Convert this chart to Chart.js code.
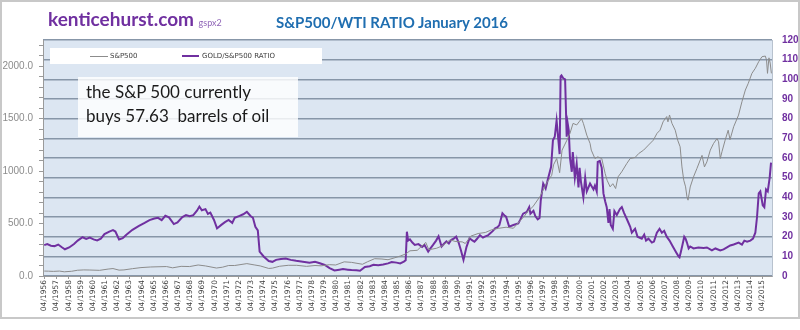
<!DOCTYPE html>
<html>
<head>
<meta charset="utf-8">
<script src="https://cdn.jsdelivr.net/npm/chart.js@4.4.1/dist/chart.umd.min.js"></script>
<style>
  html, body { margin: 0; padding: 0; background: #fff; }
  #wrap { position: relative; width: 800px; height: 330px; background: #fff; }
  #frame { position: absolute; left: 0; top: 0; width: 796px; height: 315px; border: 2px solid #c8c8c8; }
  canvas { position: absolute; left: 0; top: 0; }
  .ov { position: absolute; pointer-events: none; white-space: pre; }
  #site { left: 48px; top: 7px; font: bold 19px Lato, sans-serif; color: #7030a0; }
  #site span { font: 9px Lato, sans-serif; color: #9066b8; }
  #title { left: 276px; top: 13px; font: bold 15px Lato, sans-serif; color: #1f6eb0; }
  #legend { left: 50px; top: 48px; width: 272px; height: 16px; background: #fff; font: 7px "DejaVu Sans", sans-serif; color: #404040; }
  #legend i { position: absolute; top: 8px; height: 0; }
  #legend b { position: absolute; top: 4px; font-weight: normal; }
  #note { left: 78px; top: 77px; width: 220px; height: 60px; background: rgba(255,255,255,0.82);
          font: 17px Lato, sans-serif; color: #1a1a1a; }
  #note div { position: absolute; left: 8px; }
</style>
</head>
<body>
<div id="wrap">
  <canvas id="chart" width="800" height="330"></canvas>
  <div id="frame"></div>
  <div class="ov" id="site">kenticehurst.com <span>gspx2</span></div>
  <div class="ov" id="title">S&amp;P500/WTI RATIO January 2016</div>
  <div class="ov" id="legend">
    <i style="left:40px;width:18px;border-top:1px solid #8c8c8c"></i><b style="left:60px">S&amp;P500</b>
    <i style="left:132px;width:17px;border-top:2px solid #7030a0;top:7px"></i><b style="left:152px">GOLD/S&amp;P500 RATIO</b>
  </div>
  <div class="ov" id="note"><div style="top:4px">the S&amp;P 500 currently</div><div style="top:28px">buys 57.63  barrels of oil</div></div>
</div>
<script>
// tick labels, one per year (April)
const tickYears = [];
const tickLabels = [];
for (let y = 1956; y <= 2015; y++) { tickYears.push(y + 0.25); tickLabels.push("04/" + y); }

// S&P500 / WTI ratio (right axis)
const ratioYears = [
  1956.25, 1956.5, 1956.8, 1957.1, 1957.4, 1957.7, 1957.95, 1958.3, 1958.7, 1959.0,
  1959.4, 1959.7, 1960.0, 1960.3, 1960.6, 1960.9, 1961.2, 1961.6, 1961.9, 1962.1,
  1962.4, 1962.7, 1963.0, 1963.5, 1964.0, 1964.5, 1964.9, 1965.3, 1965.6, 1965.9,
  1966.2, 1966.5, 1966.9, 1967.2, 1967.6, 1967.9, 1968.2, 1968.5, 1968.8, 1969.0,
  1969.2, 1969.5, 1969.7, 1969.9, 1970.2, 1970.45, 1970.8, 1971.1, 1971.4, 1971.7,
  1971.9, 1972.3, 1972.6, 1972.9, 1973.2, 1973.4, 1973.6, 1973.8, 1973.95, 1974.3,
  1974.7, 1975.0, 1975.3, 1975.7, 1976.1, 1976.5, 1976.95, 1977.5, 1978.05, 1978.5,
  1978.9, 1979.3, 1979.7, 1980.1, 1980.5, 1980.8, 1981.2, 1981.5, 1981.9, 1982.2,
  1982.6, 1983.0, 1983.3, 1983.7, 1984.1, 1984.5, 1984.8, 1985.2, 1985.5, 1985.8,
  1985.95, 1986.05, 1986.15, 1986.3, 1986.5, 1986.7, 1987.0, 1987.3, 1987.5, 1987.8,
  1988.0, 1988.2, 1988.45, 1988.65, 1988.9, 1989.1, 1989.3, 1989.5, 1989.7, 1989.9,
  1990.1, 1990.3, 1990.5, 1990.7, 1990.95, 1991.2, 1991.4, 1991.6, 1991.8, 1992.05,
  1992.3, 1992.45, 1992.7, 1992.9, 1993.1, 1993.3, 1993.5, 1993.65, 1993.9, 1994.1,
  1994.2, 1994.45, 1994.8, 1995.2, 1995.35, 1995.6, 1995.9, 1996.1, 1996.2, 1996.45,
  1996.6, 1996.8, 1996.95, 1997.05, 1997.25, 1997.45, 1997.65, 1997.9, 1998.05, 1998.2,
  1998.35, 1998.5, 1998.6, 1998.68, 1998.75, 1998.9, 1999.05, 1999.18, 1999.26, 1999.35,
  1999.45, 1999.6, 1999.68, 1999.85, 2000.0, 2000.15, 2000.24, 2000.35, 2000.55, 2000.7,
  2000.83, 2001.1, 2001.38, 2001.5, 2001.65, 2001.73, 2001.9, 2002.06, 2002.2, 2002.34,
  2002.47, 2002.61, 2002.7, 2002.8, 2002.97, 2003.1, 2003.3, 2003.55, 2003.71, 2003.9,
  2004.12, 2004.4, 2004.53, 2004.8, 2005.0, 2005.35, 2005.55, 2005.7, 2005.9, 2006.18,
  2006.35, 2006.59, 2006.81, 2007.0, 2007.19, 2007.4, 2007.63, 2007.9, 2008.18, 2008.37,
  2008.45, 2008.55, 2008.7, 2008.84, 2008.95, 2009.06, 2009.2, 2009.33, 2009.6, 2010.0,
  2010.43, 2010.7, 2011.11, 2011.4, 2011.8, 2012.07, 2012.35, 2012.62, 2012.9, 2013.31,
  2013.58, 2013.78, 2014.0, 2014.27, 2014.49, 2014.68, 2014.82, 2014.96, 2015.09, 2015.29,
  2015.42, 2015.56, 2015.7, 2015.86, 2015.97
];
const ratioValues = [
  15.7, 16.2, 15.4, 15.2, 16.0, 14.6, 13.6, 14.5, 16.3, 18.0,
  19.7, 18.9, 19.5, 18.6, 18.1, 19.0, 21.3, 22.6, 23.3, 22.6,
  18.6, 19.2, 21.0, 23.5, 25.4, 27.0, 28.4, 29.2, 29.6, 28.4,
  30.6, 29.8, 26.4, 27.2, 30.0, 31.0, 30.4, 30.9, 33.2, 35.3,
  33.4, 34.0, 31.6, 32.2, 28.5, 24.2, 26.0, 27.4, 28.5, 27.0,
  29.6, 30.6, 31.4, 32.6, 30.5, 29.6, 25.0, 23.2, 12.4, 9.8,
  7.6, 7.2, 8.2, 8.6, 8.9, 8.2, 7.7, 7.3, 6.8, 7.2,
  6.5, 5.6, 4.0, 2.8, 3.2, 3.5, 3.2, 3.0, 2.9, 2.7,
  4.6, 5.0, 5.7, 5.5, 5.8, 6.4, 7.1, 6.8, 6.4, 7.3,
  8.0, 22.5, 18.0, 18.6, 17.0, 15.8, 16.2, 14.8, 15.8, 12.4,
  14.2, 15.8, 18.0, 20.2, 15.0, 16.4, 17.6, 16.5, 18.4, 19.0,
  20.0, 17.0, 12.8, 8.2, 14.8, 19.2, 18.2, 17.4, 18.8, 20.8,
  19.5, 20.0, 20.6, 21.7, 22.8, 24.2, 24.8, 25.9, 31.9, 30.6,
  30.2, 25.1, 25.9, 26.7, 28.4, 31.7, 32.6, 35.0, 31.7, 33.2,
  30.5, 28.8, 29.5, 38.5, 47.0, 44.5, 49.6, 55.5, 69.0, 70.8,
  79.0, 69.0, 62.0, 101.5, 102.0, 100.5, 100.0, 70.8, 77.6, 74.0,
  60.0, 53.0, 63.0, 50.0, 57.0, 45.0, 55.0, 48.0, 40.0, 50.0,
  43.0, 47.0, 44.0, 46.0, 43.0, 58.0, 58.5, 55.0, 42.0, 38.0,
  35.0, 27.0, 34.0, 26.0, 24.0, 33.0, 31.0, 34.0, 35.0, 32.0,
  29.0, 25.0, 22.0, 24.0, 20.0, 19.0, 21.0, 18.0, 19.0, 17.0,
  17.5, 22.0, 24.0, 22.0, 23.0, 20.0, 18.0, 15.0, 12.0, 10.0,
  9.5, 12.0, 16.0, 20.0, 19.0, 17.0, 14.0, 15.0, 14.0, 14.5,
  14.3, 14.5, 13.0, 14.0, 13.0, 13.5, 14.5, 15.5, 16.0, 17.0,
  16.0, 18.0, 17.5, 18.0, 19.0, 22.0, 30.0, 42.0, 43.0, 36.0,
  35.0, 44.0, 43.0, 50.0, 57.63
];

// S&P500 index (left axis)
const spxYears = [
  1956.25, 1956.6, 1957.0, 1957.5, 1957.9, 1958.5, 1959.0, 1959.5, 1960.0, 1960.8,
  1961.5, 1961.9, 1962.4, 1962.8, 1963.5, 1964.2, 1965.0, 1965.6, 1966.3, 1966.8,
  1967.5, 1968.2, 1968.9, 1969.5, 1970.4, 1970.9, 1971.4, 1971.9, 1972.9, 1973.5,
  1974.0, 1974.7, 1975.0, 1975.6, 1976.3, 1977.0, 1977.8, 1978.5, 1979.0, 1979.7,
  1980.2, 1980.9, 1981.5, 1982.4, 1982.8, 1983.4, 1984.0, 1984.5, 1985.0, 1985.5,
  1985.95, 1986.3, 1986.9, 1987.6, 1987.85, 1988.5, 1989.0, 1989.6, 1990.0, 1990.6,
  1990.85, 1991.3, 1991.9, 1992.5, 1993.0, 1993.6, 1994.2, 1994.8, 1995.3, 1995.7,
  1996.0, 1996.4, 1997.0, 1997.5, 1997.95, 1998.1, 1998.36, 1998.6, 1998.8, 1999.2,
  1999.45, 1999.7, 2000.0, 2000.2, 2000.4, 2000.55, 2000.83, 2001.1, 2001.2, 2001.5,
  2001.73, 2002.06, 2002.34, 2002.5, 2002.75, 2002.97, 2003.2, 2003.4, 2003.7, 2004.12,
  2004.4, 2004.8, 2005.1, 2005.5, 2005.9, 2006.3, 2006.6, 2006.85, 2007.1, 2007.4,
  2007.5, 2007.63, 2007.83, 2008.1, 2008.3, 2008.5, 2008.65, 2008.8, 2008.95, 2009.06,
  2009.15, 2009.33, 2009.6, 2009.88, 2010.15, 2010.3, 2010.5, 2010.7, 2010.98, 2011.25,
  2011.53, 2011.66, 2011.8, 2011.94, 2012.2, 2012.45, 2012.6, 2012.9, 2013.3, 2013.58,
  2013.86, 2014.1, 2014.4, 2014.68, 2014.96, 2015.23, 2015.5, 2015.6, 2015.68, 2015.8,
  2015.9, 2016.0
];
const spxValues = [
  47, 46, 44, 47, 40, 45, 55, 58, 57, 54,
  66, 71, 56, 58, 70, 80, 86, 88, 90, 78,
  92, 90, 105, 96, 76, 84, 100, 100, 118, 106,
  96, 72, 75, 93, 102, 102, 92, 100, 97, 108,
  105, 135, 130, 112, 135, 165, 162, 155, 172, 190,
  210, 240, 245, 320, 250, 265, 290, 345, 330, 325,
  310, 380, 405, 415, 440, 455, 465, 455, 520, 570,
  620, 660, 760, 880, 960, 1060, 1120, 985, 1200, 1295,
  1360, 1455, 1440, 1470, 1500, 1455, 1343, 1264, 1200, 1120,
  1136, 1120, 977, 913, 850, 880, 834, 945, 993, 1073,
  1120, 1130, 1168, 1200, 1248, 1295, 1360, 1390, 1470, 1520,
  1470, 1535, 1455, 1390, 1295, 1232, 1040, 913, 850, 755,
  723, 849, 945, 1025, 1105, 1150, 1040, 1088, 1200, 1264,
  1310, 1280, 1120, 1185, 1295, 1390, 1300, 1423, 1534, 1662,
  1773, 1837, 1932, 1980, 2044, 2091, 2097, 2060, 1932, 2080,
  2030, 1932
];

const plotBg = {
  id: "plotBg",
  beforeDraw(chart) {
    const { ctx, chartArea: a } = chart;
    ctx.save();
    ctx.fillStyle = "#dce6f2";
    ctx.fillRect(a.left, a.top, a.right - a.left, a.bottom - a.top);
    ctx.restore();
  }
};

new Chart(document.getElementById("chart"), {
  type: "line",
  data: {
    datasets: [{
      label: "S&P500",
      data: spxYears.map((x, i) => ({ x: x, y: spxValues[i] })),
      yAxisID: "yL",
      borderColor: "#8c8c8c",
      borderWidth: 1,
      pointRadius: 0,
      tension: 0
    }, {
      label: "GOLD/S&P500 RATIO",
      data: ratioYears.map((x, i) => ({ x: x, y: ratioValues[i] })),
      yAxisID: "yR",
      borderColor: "#7030a0",
      borderWidth: 2,
      pointRadius: 0,
      tension: 0
    }]
  },
  options: {
    responsive: false,
    animation: false,
    layout: { padding: { top: 40, left: 0, right: 0, bottom: 0 } },
    plugins: { legend: { display: false }, tooltip: { enabled: false } },
    scales: {
      x: {
        type: "linear",
        min: 1956.15,
        max: 2016.05,
        afterBuildTicks: s => { s.ticks = tickYears.map(v => ({ value: v })); },
        afterFit: s => { s.height = 54; },
        ticks: {
          autoSkip: false,
          minRotation: 90,
          maxRotation: 90,
          padding: 1,
          color: "#3f3f3f",
          font: { family: "DejaVu Sans", size: 7.5 },
          callback: (v, i) => tickLabels[i]
        },
        grid: { drawOnChartArea: false, tickLength: 3, color: "#9a9a9a" },
        border: { color: "#9a9a9a" }
      },
      yL: {
        position: "left",
        min: 0,
        max: 2250,
        afterFit: s => { s.width = 43; },
        ticks: {
          stepSize: 100,
          includeBounds: false,
          autoSkip: false,
          padding: 6,
          color: "#8c8c8c",
          font: { family: "Liberation Sans", size: 10 },
          callback: v => (v % 500 === 0 ? v.toFixed(1) : "")
        },
        grid: { drawOnChartArea: false, tickLength: 4, color: "#9a9a9a" },
        border: { color: "#9a9a9a" }
      },
      yR: {
        position: "right",
        min: 0,
        max: 120,
        afterFit: s => { s.width = 28; },
        ticks: {
          stepSize: 10,
          padding: 10,
          color: "#7030a0",
          font: { family: "Liberation Sans", size: 10, weight: "bold" }
        },
        grid: { drawTicks: false, color: "#8796a8", lineWidth: 1.5 },
        border: { color: "#b8c2ce" }
      }
    }
  },
  plugins: [plotBg]
});
</script>
</body>
</html>
